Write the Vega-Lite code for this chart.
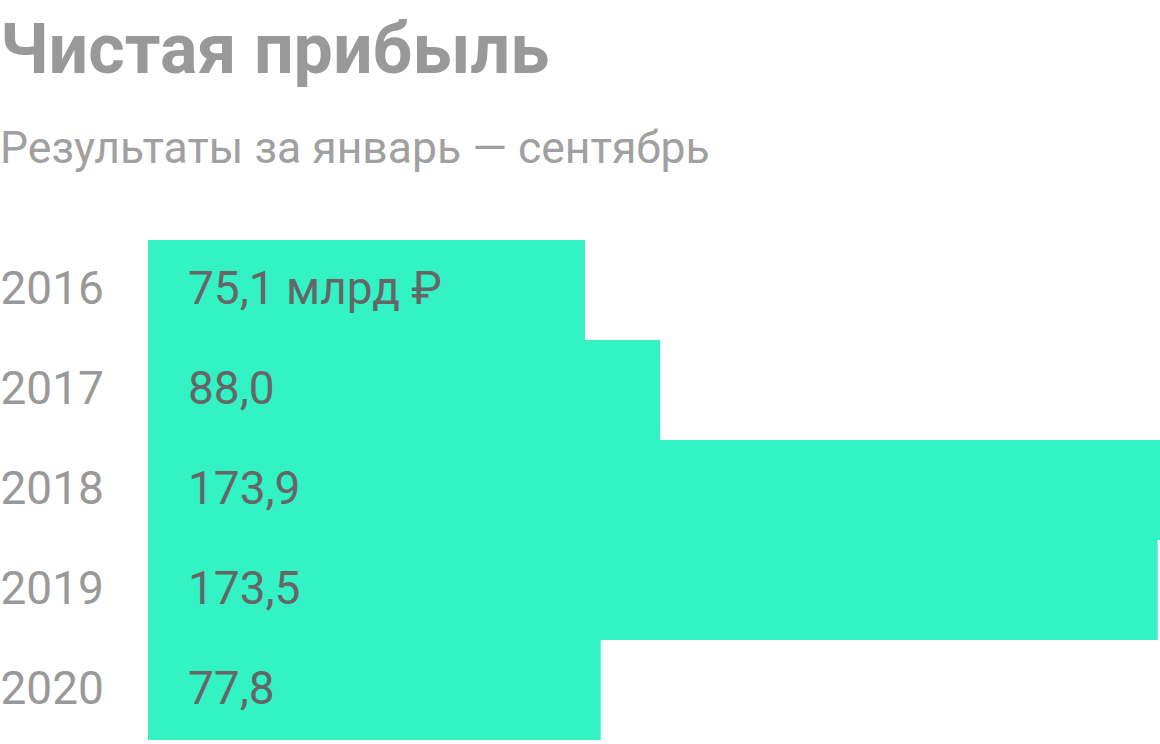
{
  "$schema": "https://vega.github.io/schema/vega-lite/v6.json",
  "width": 1012,
  "height": 500,
  "autosize": {"type": "none"},
  "padding": {"left": 148, "top": 240, "right": 0, "bottom": 4},
  "background": "white",
  "title": {
    "text": "Чистая прибыль",
    "subtitle": "Результаты за январь — сентябрь",
    "anchor": "start",
    "frame": "bounds",
    "font": "Roboto",
    "fontSize": 70,
    "fontWeight": "bold",
    "color": "#999999",
    "subtitleFont": "Roboto",
    "subtitleFontSize": 44.5,
    "subtitleColor": "#a0a0a0",
    "subtitlePadding": 40,
    "offset": 68
  },
  "config": {"view": {"stroke": null}},
  "data": {
    "values": [
      {"year": "2016", "value": 75.1, "label": "75,1 млрд ₽"},
      {"year": "2017", "value": 88.0, "label": "88,0"},
      {"year": "2018", "value": 173.9, "label": "173,9"},
      {"year": "2019", "value": 173.5, "label": "173,5"},
      {"year": "2020", "value": 77.8, "label": "77,8"}
    ]
  },
  "encoding": {
    "y": {
      "field": "year",
      "type": "nominal",
      "sort": null,
      "scale": {"paddingInner": 0, "paddingOuter": 0},
      "axis": {
        "title": null,
        "domain": false,
        "ticks": false,
        "labelAlign": "left",
        "labelPadding": 148,
        "labelFont": "Roboto",
        "labelFontSize": 46,
        "labelColor": "#999999",
        "labelBaseline": "middle"
      }
    }
  },
  "layer": [
    {
      "mark": {"type": "bar", "color": "#33f3c4", "cornerRadius": 0},
      "encoding": {
        "x": {
          "field": "value",
          "type": "quantitative",
          "scale": {"domain": [0, 173.9], "nice": false},
          "axis": null
        }
      }
    },
    {
      "mark": {
        "type": "text",
        "align": "left",
        "baseline": "middle",
        "dx": 40,
        "font": "Roboto",
        "fontSize": 46,
        "color": "#666666"
      },
      "encoding": {
        "x": {"datum": 0, "type": "quantitative"},
        "text": {"field": "label"}
      }
    }
  ]
}
